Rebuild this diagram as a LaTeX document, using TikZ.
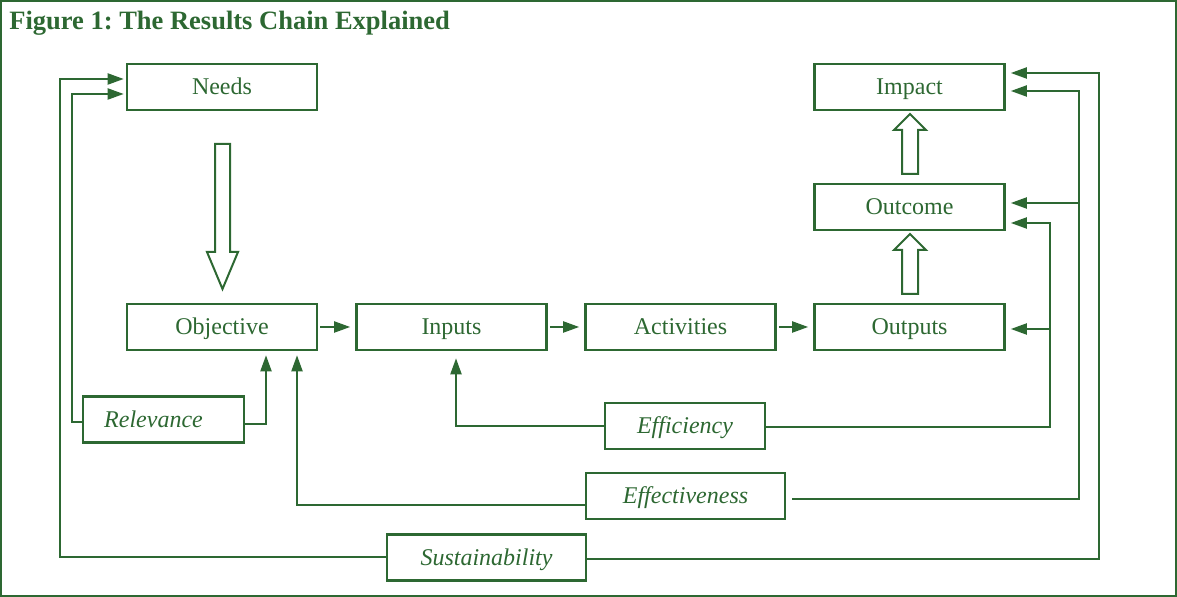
\documentclass[tikz,border=0pt]{standalone}
\usepackage{fontspec}
\setmainfont{Liberation Serif}
\usetikzlibrary{arrows.meta}
\definecolor{chaingreen}{RGB}{45,104,50}
\frenchspacing
\tikzset{
  box/.style={draw=chaingreen, line width=1.3pt, text=chaingreen, minimum width=95pt,
    minimum height=23pt, inner sep=0pt, text height=9pt, text depth=1pt,
    font=\fontsize{12}{14}\selectfont},
  critbox/.style={box, font=\fontsize{12}{14}\selectfont\itshape},
  link/.style={draw=chaingreen, line width=1pt},
  flow/.style={link, -{Triangle[length=8pt,width=5.5pt]}, shorten >=2.5pt},
  hollow/.style={draw=chaingreen, line width=1pt, fill=white}
}
\begin{document}
\begin{tikzpicture}[x=0.5pt, y=0.5pt]
\useasboundingbox (0,0) rectangle (1177,-597);
\draw[chaingreen, line width=1pt] (1,-1) rectangle (1176,-596);
\node[anchor=base west, text=chaingreen, inner sep=0pt,
  font=\fontsize{13.25}{16}\selectfont\bfseries] (title) at (9,-30) {Figure 1: The Results Chain Explained};

% results chain
\node[box] (needs) at (222,-87) {Needs};
\node[box] (objective) at (222,-327) {Objective};
\node[box] (inputs) at (451.5,-327) {Inputs};
\node[box] (activities) at (680.5,-327) {Activities};
\node[box] (outputs) at (909.5,-327) {Outputs};
\node[box] (outcome) at (909.5,-207) {Outcome};
\node[box] (impact) at (909.5,-87) {Impact};

% evaluation criteria
\node[critbox, minimum width=80.5pt] (relevance) at (163.5,-419.5) {Relevance\hspace*{10pt}};
\node[critbox, minimum width=80pt] (efficiency) at (685,-426) {Efficiency};
\node[critbox, minimum width=99.5pt] (effectiveness) at (685.5,-496) {Effectiveness};
\node[critbox, minimum width=99.5pt] (sustainability) at (486.5,-557.5) {Sustainability};

% hollow arrows
\draw[hollow] (215,-144) -- (230,-144) -- (230,-252) -- (238,-252) -- (222.5,-289)
  -- (207,-252) -- (215,-252) -- cycle;
\draw[hollow] (902,-294) -- (918,-294) -- (918,-250) -- (926,-250) -- (910,-234)
  -- (894,-250) -- (902,-250) -- cycle;
\draw[hollow] (902,-174) -- (918,-174) -- (918,-130) -- (926,-130) -- (910,-114)
  -- (894,-130) -- (902,-130) -- cycle;

% chain arrows
\draw[flow, shorten <=1pt] (objective.east) -- (inputs.west);
\draw[flow, shorten <=1pt] (inputs.east) -- (activities.west);
\draw[flow, shorten <=1pt] (activities.east) -- (outputs.west);

% left side
\draw[flow, shorten >=1pt] (sustainability.west) -| (60,-79) -- ([yshift=4pt]needs.west);
\draw[flow, shorten >=1pt] ([yshift=-1.25pt]relevance.west) -| (72,-94) -- ([yshift=-3.5pt]needs.west);
\draw[flow, shorten >=2pt] ([yshift=-2.25pt]relevance.east) -| ([xshift=22pt]objective.south);
\draw[flow, shorten >=2pt] ([yshift=-4.5pt]effectiveness.west) -| ([xshift=37.5pt]objective.south);
\draw[flow, shorten >=3.5pt] (efficiency.west) -| ([xshift=2.25pt]inputs.south);

% right side
\coordinate (effjoin) at (1079,-203);
\coordinate (effcjoin) at (1050,-329);
\draw[flow] ([yshift=-0.75pt]sustainability.east) -| (1099,-73) -- ([yshift=7pt]impact.east);
\draw[flow] ([xshift=3pt,yshift=-1.5pt]effectiveness.east) -| (1079,-91) -- ([yshift=-2pt]impact.east);
\draw[flow] (effjoin) -- ([yshift=2pt]outcome.east);
\draw[flow] ([yshift=-0.5pt]efficiency.east) -| (1050,-223) -- ([yshift=-8pt]outcome.east);
\draw[flow] (effcjoin) -- ([yshift=-1pt]outputs.east);
\end{tikzpicture}
\end{document}
